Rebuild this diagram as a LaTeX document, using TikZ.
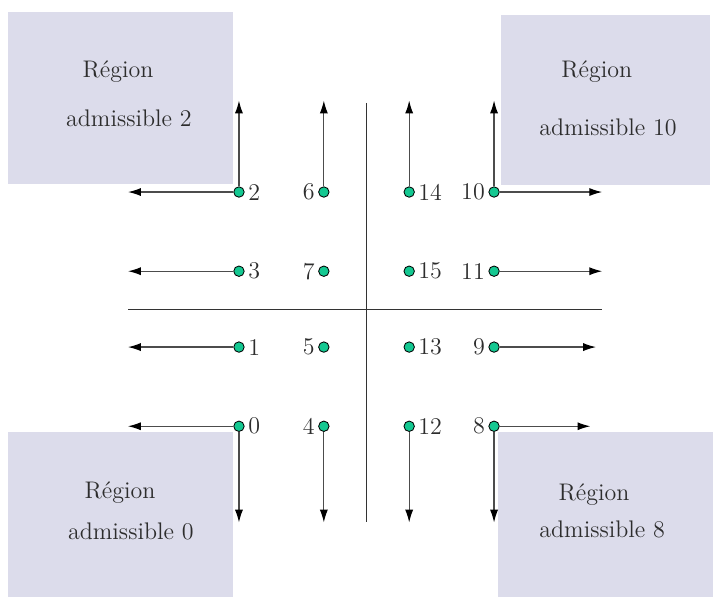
\documentclass[tikz,border=0pt]{standalone}
\usepackage{xcolor}
\usepackage{tikz}
\usetikzlibrary{arrows.meta, positioning, calc}
\definecolor{regionfill}{RGB}{220,220,235}
\definecolor{dotgreen}{RGB}{20,200,145}
\definecolor{txtgray}{RGB}{45,45,45}
\tikzset{
    region/.style={
        rectangle,
        fill=regionfill,
        inner sep=0pt
    },
    regiontxt/.style={
        text=txtgray,
        inner sep=1pt
    },
    pt/.style={
        circle,
        draw=black,
        line width=0.5pt,
        fill=dotgreen,
        inner sep=0pt,
        minimum size=2.2mm
    },
    lbl/.style={
        text=txtgray,
        inner sep=2pt
    },
    arrow/.style={-{Latex[length=2.7mm, width=1.7mm, color=black]}, draw=black!70, line width=0.7pt},
    axis/.style={draw=black!80, line width=0.5pt}
}

\begin{document}
\begin{tikzpicture}[font=\Large]

\useasboundingbox (-7.73,-6.12) rectangle (7.35,6.52);

% =========================
% Regioni admissibili
% =========================
\node[region, minimum width=4.74cm, minimum height=3.63cm] (regionTL) at (-5.19,4.455) {};
\node[region, minimum width=4.41cm, minimum height=3.58cm] (regionTR) at (5.045,4.41) {};
\node[region, minimum width=4.74cm, minimum height=3.49cm] (regionBL) at (-5.19,-4.335) {};
\node[region, minimum width=4.54cm, minimum height=3.49cm] (regionBR) at (5.04,-4.335) {};

\node[regiontxt] (titleTL) at ($(regionTL.center)+(-0.05,0.55)$) {Région};
\node[regiontxt] (nameTL)  at ($(regionTL.center)+(0.18,-0.43)$) {admissible 2};

\node[regiontxt] (titleTR) at ($(regionTR.center)+(-0.19,0.59)$) {Région};
\node[regiontxt] (nameTR)  at ($(regionTR.center)+(0.05,-0.57)$) {admissible 10};

\node[regiontxt] (titleBL) at ($(regionBL.center)+(-0.01,0.46)$) {Région};
\node[regiontxt] (nameBL)  at ($(regionBL.center)+(0.22,-0.35)$) {admissible 0};

\node[regiontxt] (titleBR) at ($(regionBR.center)+(-0.24,0.42)$) {Région};
\node[regiontxt] (nameBR)  at ($(regionBR.center)+(-0.07,-0.31)$) {admissible 8};

% =========================
% Axes
% =========================
\coordinate (axL) at (-5.03,0);
\coordinate (axR) at (4.97,0);
\coordinate (axT) at (0,4.35);
\coordinate (axB) at (0,-4.49);

\draw[axis] (axL) -- (axR);
\draw[axis] (axT) -- (axB);

% =========================
% Points
% =========================
\node[pt, label={[lbl]right:2}]  (p2)  at (-2.69,2.47) {};
\node[pt, label={[lbl]right:3}]  (p3)  at (-2.69,0.80) {};
\node[pt, label={[lbl]right:1}]  (p1)  at (-2.69,-0.80) {};
\node[pt, label={[lbl]right:0}]  (p0)  at (-2.69,-2.47) {};

\node[pt, label={[lbl]left:6}]   (p6)  at (-0.90,2.47) {};
\node[pt, label={[lbl]left:7}]   (p7)  at (-0.90,0.80) {};
\node[pt, label={[lbl]left:5}]   (p5)  at (-0.90,-0.80) {};
\node[pt, label={[lbl]left:4}]   (p4)  at (-0.90,-2.47) {};

\node[pt, label={[lbl]right:14}] (p14) at (0.90,2.47) {};
\node[pt, label={[lbl]right:15}] (p15) at (0.90,0.80) {};
\node[pt, label={[lbl]right:13}] (p13) at (0.90,-0.80) {};
\node[pt, label={[lbl]right:12}] (p12) at (0.90,-2.47) {};

\node[pt, label={[lbl]left:10}]  (p10) at (2.69,2.47) {};
\node[pt, label={[lbl]left:11}]  (p11) at (2.69,0.80) {};
\node[pt, label={[lbl]left:9}]   (p9)  at (2.69,-0.80) {};
\node[pt, label={[lbl]left:8}]   (p8)  at (2.69,-2.47) {};

% =========================
% Directions
% =========================

% vers la gauche
\coordinate (w2) at (-5.03,2.47);
\coordinate (w3) at (-5.03,0.80);
\coordinate (w1) at (-5.03,-0.80);
\coordinate (w0) at (-5.03,-2.47);

\draw[arrow] (p2) -- (w2);
\draw[arrow] (p3) -- (w3);
\draw[arrow] (p1) -- (w1);
\draw[arrow] (p0) -- (w0);

% vers la droite
\coordinate (e10) at (4.97,2.47);
\coordinate (e11) at (4.97,0.80);
\coordinate (e9)  at (4.84,-0.80);
\coordinate (e8)  at (4.72,-2.47);

\draw[arrow] (p10) -- (e10);
\draw[arrow] (p11) -- (e11);
\draw[arrow] (p9)  -- (e9);
\draw[arrow] (p8)  -- (e8);

% vers le haut
\draw[arrow] (p2)  -- ++(0,1.93);
\draw[arrow] (p6)  -- ++(0,1.93);
\draw[arrow] (p14) -- ++(0,1.93);
\draw[arrow] (p10) -- ++(0,1.93);

% vers le bas
\draw[arrow] (p0)  -- ++(0,-2.03);
\draw[arrow] (p4)  -- ++(0,-2.03);
\draw[arrow] (p12) -- ++(0,-2.03);
\draw[arrow] (p8)  -- ++(0,-2.03);

\end{tikzpicture}
\end{document}
